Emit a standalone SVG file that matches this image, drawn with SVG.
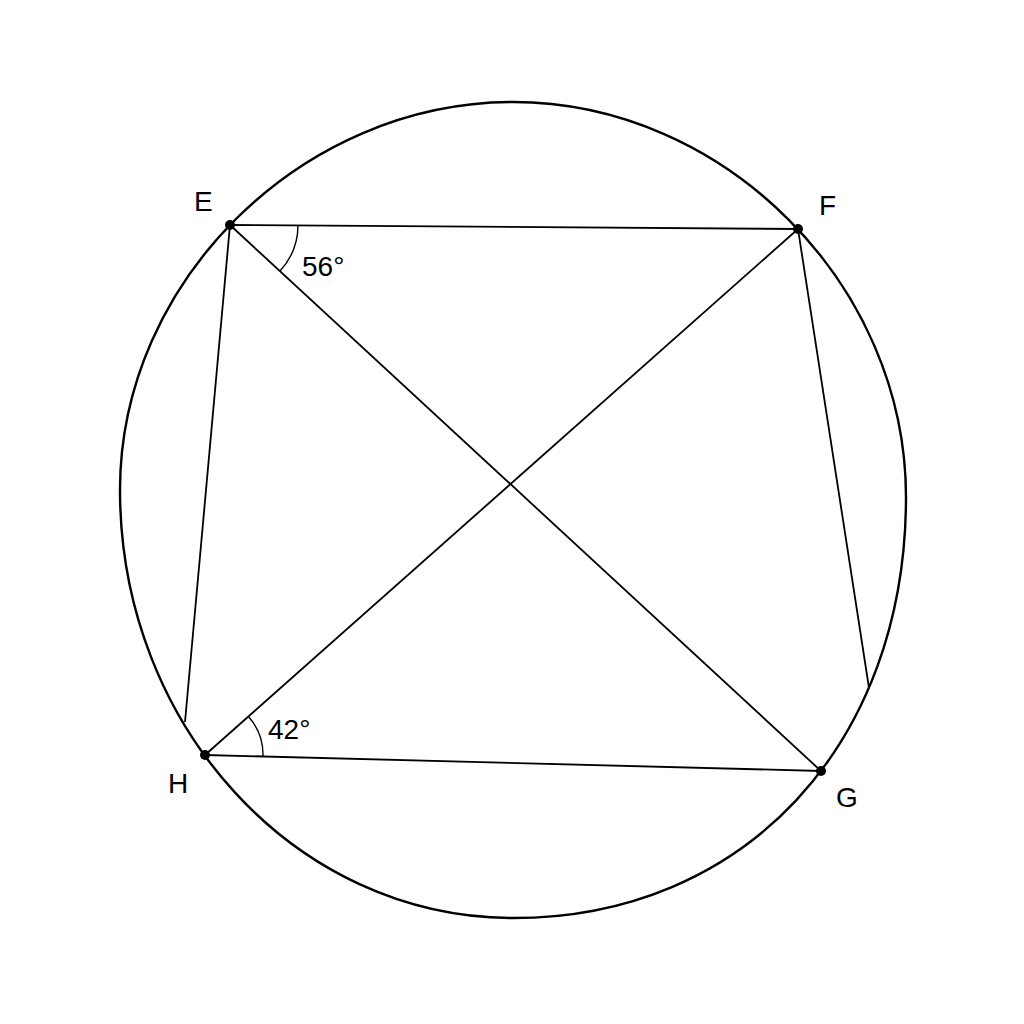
<svg xmlns="http://www.w3.org/2000/svg" width="1024" height="1024" viewBox="0 0 1024 1024">
<style>
.c{fill:none;stroke:#000;stroke-width:2.4}
.l{fill:none;stroke:#000;stroke-width:1.8}
.a{fill:none;stroke:#000;stroke-width:1.4}
.p{fill:#000}
text{font-family:"Liberation Sans",Arial,sans-serif;font-size:28px;fill:#000}
</style>
<rect width="1024" height="1024" fill="#fff"/>
<g id="circle"><path class="c" d="M120,490 C120,281.3 301.6,102 513,102 C724.4,102 906,284.5 906,497 C906,744.5 744.1,918 513,918 C295.9,918 120,726.4 120,490 Z"/></g>
<g id="connectors">
<line class="l" x1="230" y1="225" x2="798" y2="229"/>
<line class="l" x1="205" y1="755" x2="821" y2="771"/>
<line class="l" x1="230" y1="225" x2="821" y2="771"/>
<line class="l" x1="205" y1="755" x2="798" y2="229"/>
<line class="l" x1="230" y1="225" x2="185" y2="722"/>
<line class="l" x1="798" y1="229" x2="869" y2="688"/>
</g>
<g id="angle-E"><path class="a" d="M298,225.5 A68,68 0 0 1 280,271"/><text x="302" y="276">56°</text></g>
<g id="angle-H"><path class="a" d="M248.4,716.5 A58,58 0 0 1 263,756.5"/><text x="268" y="739">42°</text></g>
<g id="E"><circle class="p" cx="230" cy="225" r="5"/><text x="194" y="211">E</text></g>
<g id="F"><circle class="p" cx="798" cy="229" r="5"/><text x="819" y="215">F</text></g>
<g id="G"><circle class="p" cx="821" cy="771" r="5"/><text x="836" y="807">G</text></g>
<g id="H"><circle class="p" cx="205" cy="755" r="5"/><text x="168" y="793">H</text></g>
</svg>
